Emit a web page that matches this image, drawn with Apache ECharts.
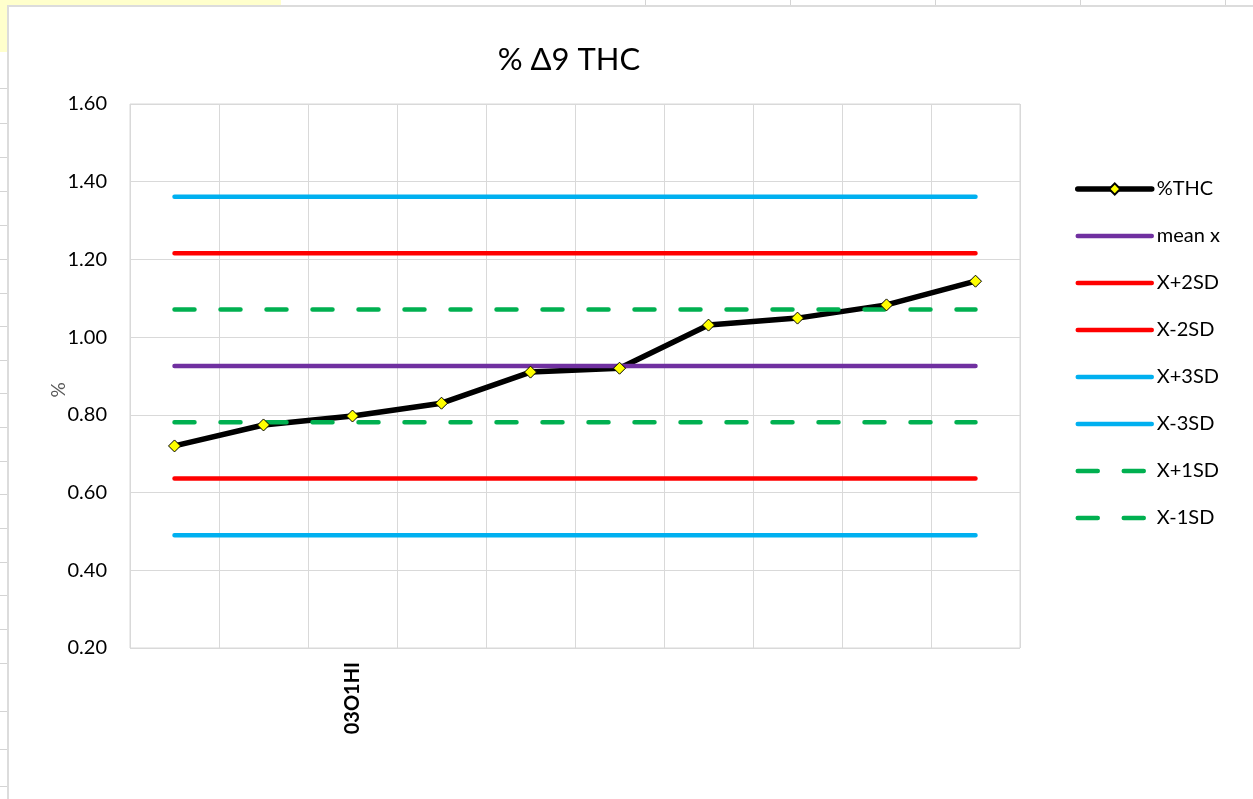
<!DOCTYPE html>
<html>
<head>
<meta charset="utf-8">
<script src="https://cdn.jsdelivr.net/npm/echarts@6/dist/echarts.min.js"></script>
<style>
  html, body { margin: 0; padding: 0; background: #ffffff; }
  #wrap { position: relative; width: 1253px; height: 799px; overflow: hidden; background: #fff; }
  .yellow { position: absolute; left: 0; top: 0; width: 281px; height: 52px; background: #FFFFCC; }
  .hl { position: absolute; left: 0; width: 8px; height: 1px; background: #d4d4d4; }
  .vl { position: absolute; top: 0; width: 1px; height: 6px; background: #d4d4d4; }
  .area { position: absolute; left: 7px; top: 5px; right: -10px; bottom: -10px; background: #fff;
          border-left: 2px solid #dcdcdc; border-top: 2px solid #dcdcdc; }
  #chart { position: absolute; left: 0; top: 0; width: 1253px; height: 799px; }
</style>
</head>
<body>
<div id="wrap">
  <div class="yellow"></div>
  <div id="deco"></div>
  <div class="area"></div>
  <div id="chart"></div>
</div>
<script>
// ---- data ----
const categories = ['1', '2', '3', '4', '5', '6', '7', '8', '9', '10'];
const tickLabels = ['', '', '03O1HI', '', '', '', '', '', '', ''];
const thc = [0.720, 0.774, 0.797, 0.830, 0.910, 0.920, 1.031, 1.049, 1.083, 1.144];
const meanX = 0.926;
const plus2SD = 1.216;
const minus2SD = 0.636;
const plus3SD = 1.361;
const minus3SD = 0.490;
const plus1SD = 1.071;
const minus1SD = 0.781;
const yTicks = { min: 0.2, max: 1.6, interval: 0.2 };
const legendNames = ['%THC', 'mean x', 'X+2SD', 'X-2SD', 'X+3SD', 'X-3SD', 'X+1SD', 'X-1SD'];

// spreadsheet decorations (background only)
const deco = document.getElementById('deco');
[88, 123, 157, 191, 225, 259, 293, 326, 360, 393, 427, 461, 494, 528, 562, 595, 629, 663, 711, 749, 786].forEach(y => {
  const d = document.createElement('div'); d.className = 'hl'; d.style.top = y + 'px'; deco.appendChild(d);
});
[645, 790, 935, 1080, 1225].forEach(x => {
  const d = document.createElement('div'); d.className = 'vl'; d.style.left = x + 'px'; deco.appendChild(d);
});

const flat = v => categories.map(() => v);
const FONT = 'Lato';
const dash = [20, 26];

function refLine(name, value, color, dashed) {
  return {
    name: name, type: 'line', data: flat(value), symbol: 'none', silent: true,
    lineStyle: { color: color, width: 4.5, type: dashed ? dash : 'solid', cap: 'round' },
    itemStyle: { color: color },
    animation: false
  };
}

const legendData = legendNames.map((n, i) => i === 0
  ? { name: n }
  : { name: n, itemStyle: { color: 'rgba(0,0,0,0)', borderWidth: 0, opacity: 0 } });

const chart = echarts.init(document.getElementById('chart'), null, { renderer: 'canvas' });
chart.setOption({
  backgroundColor: 'transparent',
  animation: false,
  textStyle: { fontFamily: FONT },
  title: {
    text: '% Δ9 THC', left: 564, top: 39, textAlign: 'center',
    textStyle: { fontFamily: FONT, fontSize: 31, fontWeight: 'normal', color: '#000' }
  },
  grid: { left: 130, right: 233, top: 104, bottom: 151, show: true, borderColor: '#d9d9d9', borderWidth: 1 },
  legend: {
    orient: 'vertical', left: 1070, top: 174,
    itemWidth: 74, itemHeight: 14, itemGap: 27,
    lineStyle: { width: 'inherit', type: 'inherit', cap: 'round' },
    textStyle: { fontFamily: FONT, fontSize: 20, color: '#000' },
    data: legendData
  },
  xAxis: {
    type: 'category', data: categories, boundaryGap: true,
    axisLine: { show: false }, axisTick: { show: false },
    splitLine: { show: true, lineStyle: { color: '#d9d9d9', width: 1 } },
    axisLabel: {
      interval: 0, rotate: 90, margin: 14,
      formatter: (v, i) => tickLabels[i],
      fontFamily: FONT, fontSize: 20, fontWeight: 'bold', color: '#000'
    }
  },
  yAxis: {
    type: 'value', min: yTicks.min, max: yTicks.max, interval: yTicks.interval,
    name: '%', nameLocation: 'middle', nameGap: 62, nameRotate: 90, nameMoveOverlap: false,
    nameTextStyle: { fontFamily: FONT, fontSize: 19, color: '#595959', padding: [0, 28, 0, 0] },
    axisLine: { show: false }, axisTick: { show: false },
    splitLine: { show: true, lineStyle: { color: '#d9d9d9', width: 1 } },
    axisLabel: { margin: 23, formatter: v => v.toFixed(2), fontFamily: FONT, fontSize: 20, color: '#000' }
  },
  series: [
    {
      name: '%THC', type: 'line', data: thc,
      symbol: 'diamond', symbolSize: 12,
      lineStyle: { color: '#000', width: 5.5 },
      itemStyle: { color: '#FFFF00', borderColor: '#000', borderWidth: 1 },
      animation: false
    },
    refLine('mean x', meanX, '#7030A0', false),
    refLine('X+2SD', plus2SD, '#FF0000', false),
    refLine('X-2SD', minus2SD, '#FF0000', false),
    refLine('X+3SD', plus3SD, '#00B0F0', false),
    refLine('X-3SD', minus3SD, '#00B0F0', false),
    refLine('X+1SD', plus1SD, '#00B050', true),
    refLine('X-1SD', minus1SD, '#00B050', true)
  ]
});
</script>
</body>
</html>
